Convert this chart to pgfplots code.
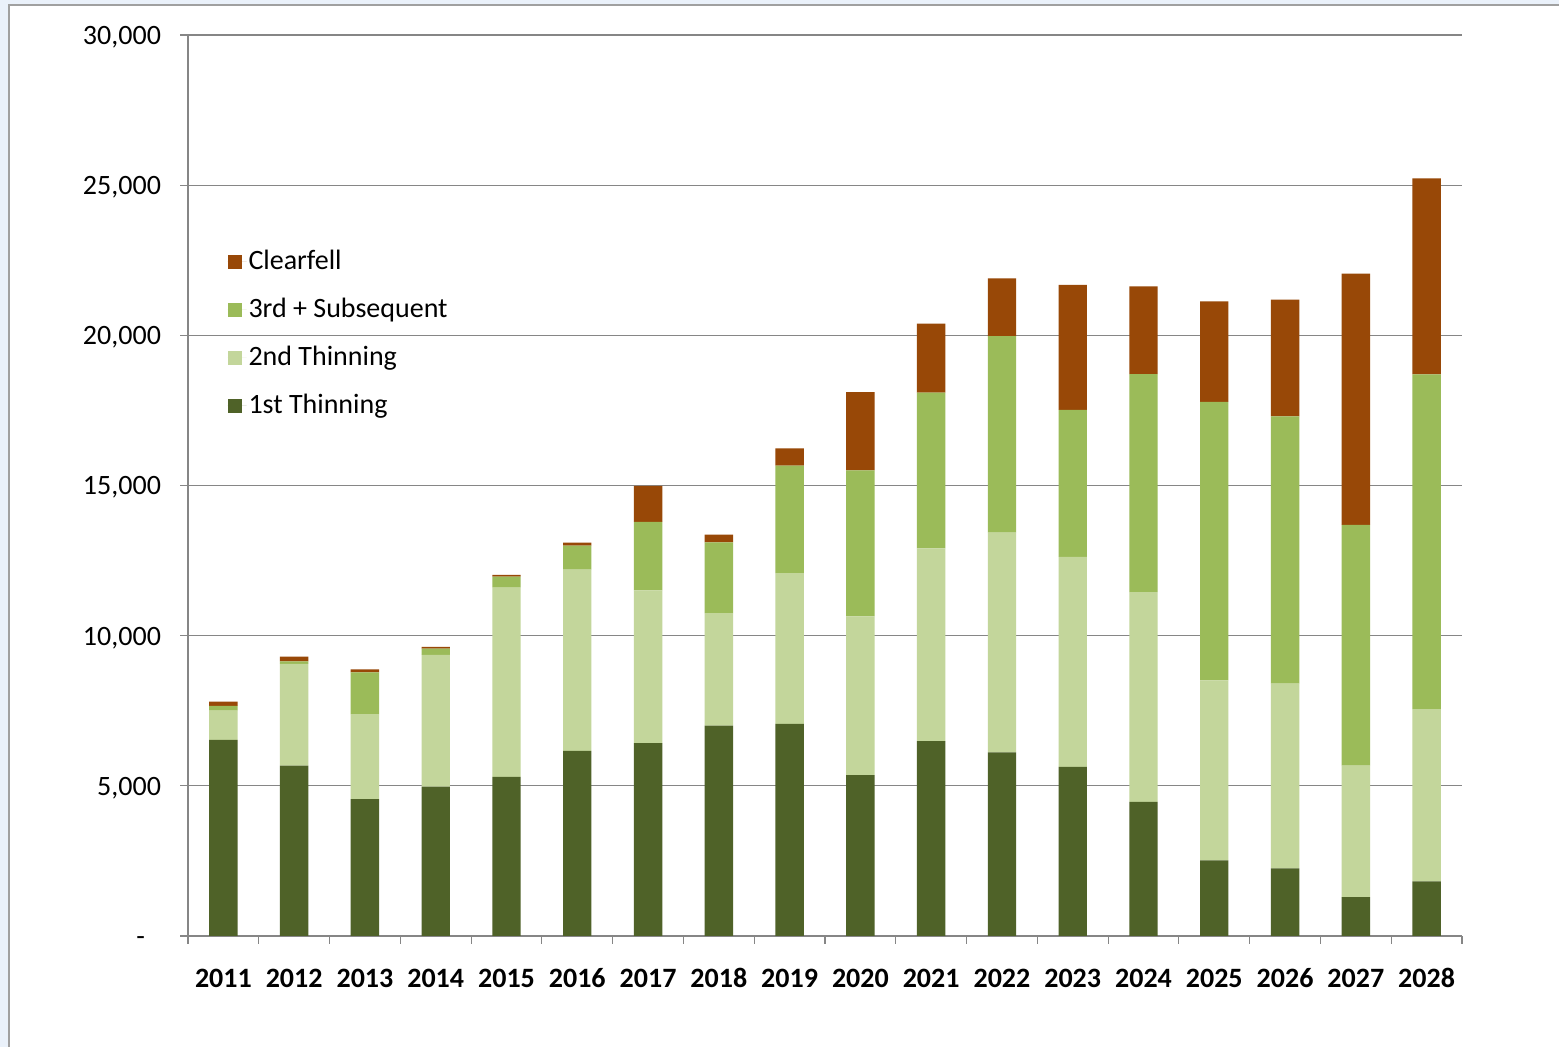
\documentclass[border=0pt]{standalone}
\usepackage{fontspec}
\setmainfont{Carlito}
\usepackage{pgfplots}
\usepackage{pgfplotstable}
\pgfplotsset{compat=1.18}

\definecolor{firstthin}{HTML}{4F6228}
\definecolor{secondthin}{HTML}{C3D69B}
\definecolor{thirdthin}{HTML}{9BBB59}
\definecolor{clearfell}{HTML}{984807}
\definecolor{gridgray}{HTML}{868686}
\definecolor{bgblue}{HTML}{EAF1FA}
\definecolor{framegray}{HTML}{A0A0A0}

% volumes per year, stacked bottom to top
\pgfplotstableread{
x  first second third clear
0  6530  970   160   145
1  5675  3385  80    165
2  4555  2830  1390  100
3  4975  4385  210   55
4  5300  6300  365   55
5  6165  6030  800   100
6  6420  5085  2280  1205
7  7005  3745  2355  255
8  7065  5020  3575  575
9  5355  5285  4865  2600
10 6485  6420  5190  2295
11 6115  7315  6545  1925
12 5630  6995  4895  4160
13 4465  6985  7255  2925
14 2520  5995  9270  3345
15 2255  6150  8895  3890
16 1295  4375  8020  8360
17 1820  5730  11150 6525
}\datatable

\begin{document}
\begin{tikzpicture}
\path[use as bounding box] (0,0) rectangle (779.5pt,523.5pt);
\fill[bgblue] (0,0) rectangle (779.5pt,523.5pt);
\fill[white] (4.5pt,0) rectangle (779.5pt,521pt);
\draw[framegray, line width=0.8pt] (4.5pt,0) -- (4.5pt,521pt) -- (779.5pt,521pt);

\begin{axis}[
    at={(94pt,55.5pt)}, anchor=south west,
    scale only axis,
    width=637pt, height=450.5pt,
    ybar stacked,
    bar width=14.2pt,
    xmin=-0.5, xmax=17.5,
    ymin=0, ymax=30000,
    scaled y ticks=false,
    axis lines*=left,
    axis line style={draw=gridgray, line width=0.6pt, -},
    ymajorgrids,
    grid style={draw=gridgray, line width=0.6pt},
    xtick=data,
    xticklabels={2011,2012,2013,2014,2015,2016,2017,2018,2019,2020,2021,2022,2023,2024,2025,2026,2027,2028},
    minor xtick={-0.5,0.5,...,17.5},
    major x tick style={draw=none},
    minor x tick style={draw=gridgray, line width=0.6pt},
    minor tick length=4pt,
    ytick={0,5000,10000,15000,20000,25000,30000},
    yticklabels={{-\rule{8pt}{0pt}},{5,000},{10,000},{15,000},{20,000},{25,000},{30,000}},
    ytick style={draw=gridgray, line width=0.6pt},
    major tick length=4pt,
    tick align=outside,
    typeset ticklabels with strut,
    ticklabel style={font=\fontsize{14}{16}\selectfont, text=black},
    xticklabel style={yshift=-7pt, font=\fontsize{14}{16}\selectfont\bfseries},
    yticklabel style={xshift=-6pt, yshift=-1.5pt},
    legend style={
        at={(rel axis cs:0.026,0.768)}, anchor=north west,
        draw=none, fill=none,
        font=\fontsize{14}{16}\selectfont,
        row sep=10.8pt,
        nodes={inner sep=1pt},
    },
    legend cell align=left,
    reverse legend,
    legend image code/.code={
        \path (0pt,0pt) -- (9.5pt,0pt);
        \fill[#1] (0pt,-3.5pt) rectangle (7pt,3.5pt);
    },
]
\addplot[fill=firstthin, draw=none] table[x=x, y=first] {\datatable};
\addplot[fill=secondthin, draw=none] table[x=x, y=second] {\datatable};
\addplot[fill=thirdthin, draw=none] table[x=x, y=third] {\datatable};
\addplot[fill=clearfell, draw=none] table[x=x, y=clear] {\datatable};
\legend{1st Thinning, 2nd Thinning, 3rd + Subsequent, Clearfell}
\end{axis}
\end{tikzpicture}
\end{document}
